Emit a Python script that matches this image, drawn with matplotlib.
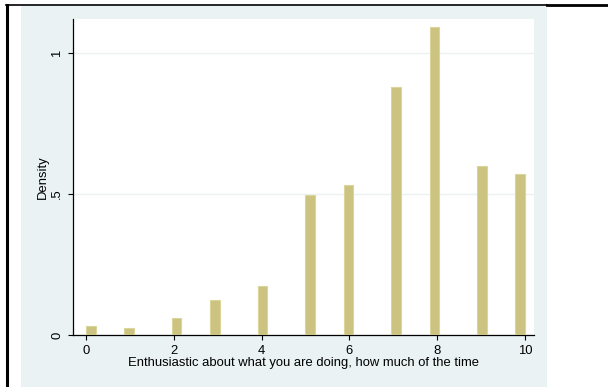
import matplotlib.pyplot as plt
import numpy as np

plt.rcParams['font.family'] = ['Liberation Sans', 'DejaVu Sans']

# response values (0-10) and their histogram density
values = [0, 1, 2, 3, 4, 5, 6, 7, 8, 9, 10]
density = [0.032, 0.024, 0.059, 0.124, 0.174, 0.496, 0.532, 0.881, 1.092, 0.599, 0.571]
n_bins = 46
x_ticks = [0, 2, 4, 6, 8, 10]
y_ticks = [0, 0.5, 1]
y_labels = ['0', '.5', '1']

bar_color = '#cbc37f'
edge_color = '#dbd59c'
panel_color = '#eaf2f3'

fig = plt.figure(figsize=(6.08, 3.87), dpi=100)
fig.patch.set_facecolor('white')

# Stata-style outer panel and the document borders around it
fig.patches.append(plt.Rectangle((21 / 608, 0), (547 - 21) / 608, (387 - 6) / 387,
                                 transform=fig.transFigure, facecolor=panel_color,
                                 edgecolor='none', zorder=-1))
fig.lines.append(plt.Line2D([6 / 608, 547 / 608], [382 / 387, 382 / 387],
                            transform=fig.transFigure, color='black', lw=1.2))
fig.lines.append(plt.Line2D([547 / 608, 1], [382 / 387, 382 / 387],
                            transform=fig.transFigure, color='black', lw=2))
fig.lines.append(plt.Line2D([6.5 / 608, 6.5 / 608], [0, 382 / 387],
                            transform=fig.transFigure, color='black', lw=2.2))

ax = fig.add_axes([73 / 608, 52 / 387, (534 - 73) / 608, (368 - 52) / 387])
ax.set_zorder(1)
ax.set_facecolor('white')

edges = np.linspace(0, 10, n_bins + 1)
ax.hist(values, bins=edges, weights=density, color=bar_color,
        edgecolor=edge_color, linewidth=0.8, zorder=3)

ax.set_xlim(-0.296, 10.205)
ax.set_ylim(0, 1.1206)
ax.set_xticks(x_ticks)
ax.set_yticks(y_ticks)
ax.set_yticklabels(y_labels, rotation=90, va='center')
ax.yaxis.grid(True, color=panel_color, lw=1, zorder=0)

for side in ['top', 'right']:
    ax.spines[side].set_visible(False)
for side in ['left', 'bottom']:
    ax.spines[side].set_color('black')
    ax.spines[side].set_linewidth(0.9)

ax.tick_params(axis='both', direction='out', length=3.6, width=0.8,
               labelsize=9.4, colors='black')
ax.tick_params(axis='x', pad=3.5)
ax.tick_params(axis='y', pad=3.5)

ax.set_xlabel('Enthusiastic about what you are doing, how much of the time',
              fontsize=9.4, labelpad=0)
ax.set_ylabel('Density', fontsize=9.4, labelpad=1.5)

fig.savefig('out.png', dpi=100)
